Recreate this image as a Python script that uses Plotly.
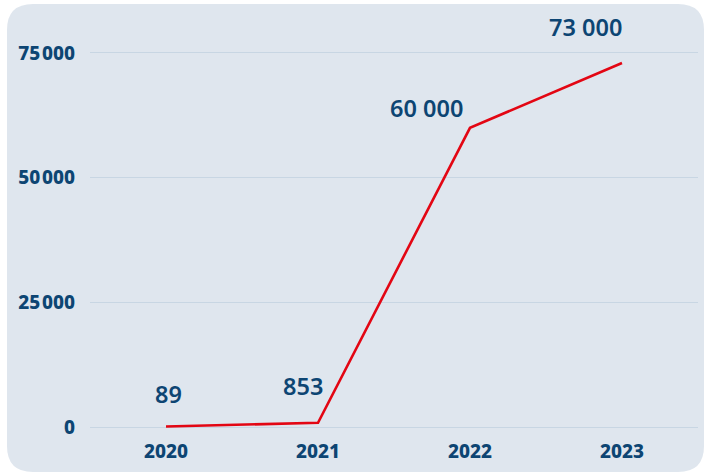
import plotly.graph_objects as go

years = ["2020", "2021", "2022", "2023"]
values = [89, 853, 60000, 73000]
value_labels = ["89", "853", "60 000", "73 000"]
ytick_vals = [0, 25000, 50000, 75000]
ytick_text = ["0", "25\u200a000", "50\u200a000", "75\u200a000"]

W, H = 705, 475
L, R, T, B = 90, 7, 20, 40
pw, ph = W - L - R, H - T - B

def P(x, y):
    a, b = (x - L) / pw, (H - B - y) / ph
    return f"{a:.5f},{b:.5f}"

# rounded card background
x0, y0, x1, y1, r = 7, 4, 704, 472, 26
path = (f"M {P(x0 + r, y0)} L {P(x1 - r, y0)} Q {P(x1, y0)} {P(x1, y0 + r)} "
        f"L {P(x1, y1 - r)} Q {P(x1, y1)} {P(x1 - r, y1)} "
        f"L {P(x0 + r, y1)} Q {P(x0, y1)} {P(x0, y1 - r)} "
        f"L {P(x0, y0 + r)} Q {P(x0, y0)} {P(x0 + r, y0)} Z")

navy = "#0d4573"

fig = go.Figure()
fig.add_trace(go.Scatter(x=years, y=values, mode="lines",
                         line=dict(color="#e30613", width=2.6),
                         hoverinfo="skip", cliponaxis=False))

shifts = [(2, 33), (-15, 37), (-44, 20), (-37, 36)]
for i, (v, t) in enumerate(zip(values, value_labels)):
    fig.add_annotation(x=i, y=v, xref="x", yref="y", text=t, showarrow=False,
                       xshift=shifts[i][0], yshift=shifts[i][1],
                       font=dict(family="Noto Sans", size=23.5, color=navy, weight=600))

fig.update_layout(
    width=W, height=H,
    margin=dict(l=L, r=R, t=T, b=B),
    paper_bgcolor="white", plot_bgcolor="rgba(0,0,0,0)",
    showlegend=False,
    shapes=[dict(type="path", path=path, xref="paper", yref="paper",
                 fillcolor="#dfe6ee", line=dict(width=0), layer="below")],
    font=dict(family="Noto Sans", color=navy),
)
fig.update_xaxes(type="category", range=[-0.5, 3.5], showgrid=False,
                 zeroline=False, showline=False, ticks="",
                 tickfont=dict(family="Noto Sans", size=19, color=navy, weight=800),
                 ticklabelstandoff=3)
fig.update_yaxes(range=[-1604, 81616], tickvals=ytick_vals, ticktext=ytick_text,
                 showgrid=True, gridcolor="#c8d6e3", gridwidth=1,
                 zeroline=False, showline=False, ticks="",
                 tickfont=dict(family="Noto Sans", size=19, color=navy, weight=800),
                 ticklabelstandoff=14)

fig.write_html("out.html", config={"displayModeBar": False},
               post_script="document.body.style.margin='0';")
